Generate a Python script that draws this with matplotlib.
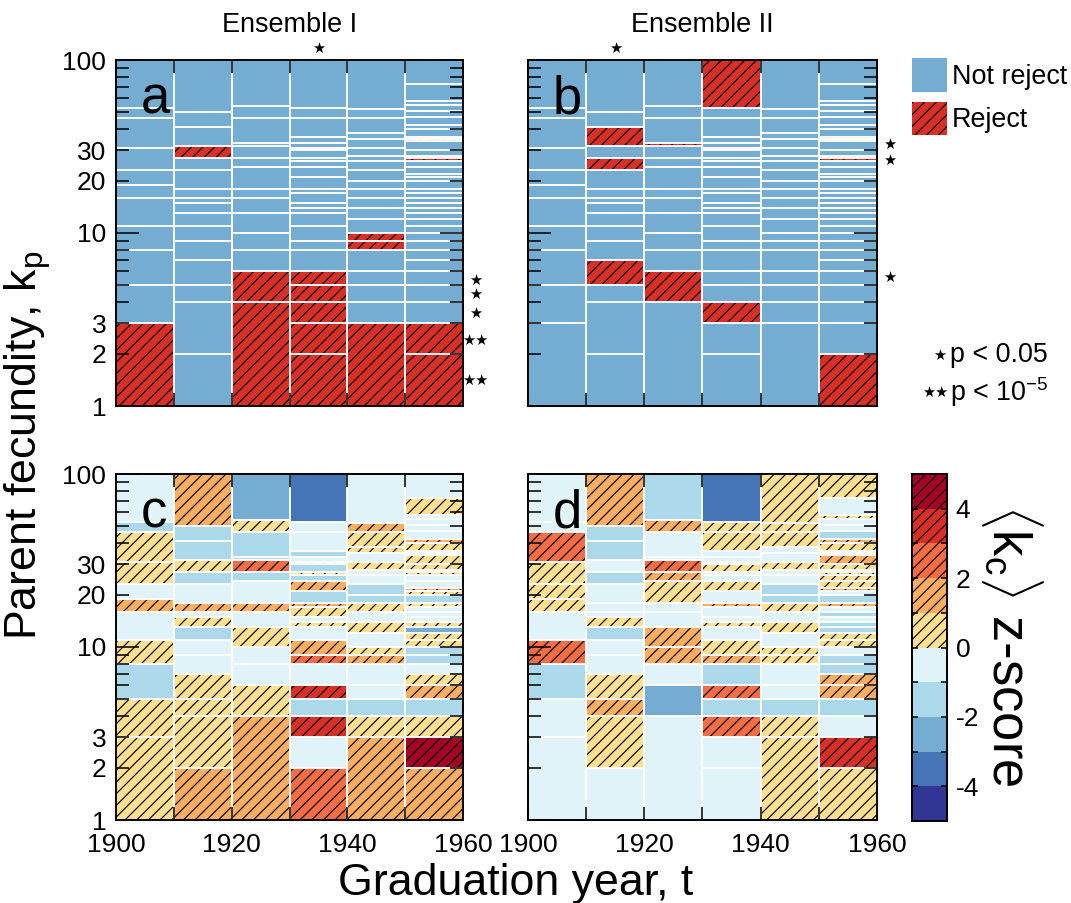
import math
import matplotlib
matplotlib.use('Agg')
import matplotlib.pyplot as plt
import matplotlib.transforms as mtransforms
from matplotlib.patches import Patch
from matplotlib.ticker import FixedLocator, FuncFormatter

plt.rcParams['font.family'] = ['Liberation Sans', 'DejaVu Sans']
plt.rcParams['mathtext.fontset'] = 'custom'
plt.rcParams['mathtext.rm'] = 'Liberation Sans'
plt.rcParams['mathtext.it'] = 'Liberation Sans:italic'
plt.rcParams['hatch.linewidth'] = 0.6
plt.rcParams['axes.linewidth'] = 1.0

DPI = 140
W, H = 1071, 903
HATCH = '////'

decades = [1900, 1910, 1920, 1930, 1940, 1950]

# bin edges of parent fecundity k_p, one list per graduation decade
edges_1900 = [1, 3, 5, 8, 11, 16, 19, 23, 31, 46, 53, 100]
edges_1910 = [1, 2, 4, 5, 7, 9, 11, 13, 15, 16, 18, 23, 27, 32, 41, 50, 100]
edges_1920 = [1, 4, 6, 8, 10, 13, 16, 18, 24, 27, 32, 33, 46, 54, 100]
edges_1930 = [1, 2, 3, 4, 5, 6, 8, 9, 11, 13, 14, 15, 17, 18, 21, 24, 26, 27,
              30, 31, 33, 36, 46, 53, 100]
edges_1940 = [1, 3, 4, 5, 6, 8, 9, 10, 12, 14, 16, 18, 20, 23, 26, 28, 31, 35,
              38, 46, 52, 100]
edges_1950 = [1, 2, 3, 4, 5, 6, 7, 8, 9, 10, 11, 12, 13, 14, 15, 16, 17, 18, 20,
              21, 22, 24, 26, 27, 28, 30, 34, 35, 36, 40, 42, 47, 51, 55, 58, 73, 100]
edges = [edges_1900, edges_1910, edges_1920, edges_1930, edges_1940, edges_1950]

# lower edge of the bins where the null model is rejected
reject_I = [[1], [27], [1, 4], [1, 2, 3, 4, 5], [1, 8, 9], [1, 2, 26, 34]]
reject_II = [[], [5, 23, 32], [4, 32], [3, 53], [], [1, 26]]

# <k_c> z-scores per bin (bottom to top)
z_I_1900 = [0.5, 0.5, -1.5, 0.5, -0.5, 1.5, -0.5, 0.5, 0.5, -1.5, -0.5]
z_I_1910 = [1.5, 0.5, 0.5, 0.5, -0.5, -0.5, -1.5, 0.5, -0.5, 1.5, -0.5, -1.5,
            0.5, -1.5, -1.5, 1.5]
z_I_1920 = [1.5, 0.5, -0.5, -0.5, 0.5, -0.5, 1.5, -0.5, -1.5, 2.5, -1.5, -1.5,
            0.5, -2.5]
z_I_1930 = [2.5, -0.5, 3.5, -1.5, 3.5, -0.5, 2.5, 1.5, -0.5, 0.5, -0.5, 0.5,
            1.5, -1.5, 1.5, -1.5, 0.5, -1.5, 0.5, -0.5, -1.5, -0.5, -0.5, -3.5]
z_I_1940 = [1.5, 0.5, -1.5, -0.5, -0.5, 1.5, 0.5, -0.5, 0.5, -0.5, 0.5, -1.5,
            -1.5, -0.5, -0.5, 0.5, -0.5, 0.5, 0.5, 1.5, -0.5]
z_I_1950 = [1.5, 4.5, 0.5, -1.5, 1.5, 0.5, -0.5, -1.5, -1.5, 0.5, 0.5, -2.5,
            0.5, -0.5, -0.5, -0.5, 0.5, -1.5, 0.5, 1.5, -0.5, -0.5, 0.5, -0.5,
            0.5, 0.5, -0.5, -1.5, 0.5, 1.5, -0.5, -0.5, -0.5, -0.5, 0.5, -0.5]

z_II_1900 = [-0.5, -0.5, -1.5, 2.5, -0.5, 0.5, 0.5, 0.5, 2.5, -0.5, -0.5]
z_II_1910 = [-0.5, 0.5, 1.5, 0.5, -0.5, -0.5, -1.5, 0.5, -0.5, -0.5, -0.5, -1.5,
             -0.5, -1.5, -1.5, 1.5]
z_II_1920 = [-0.5, -2.5, -0.5, 1.5, 1.5, -0.5, -0.5, 0.5, 1.5, 2.5, -0.5, -0.5,
             1.5, -1.5]
z_II_1930 = [-0.5, -0.5, 2.5, -1.5, 2.5, -1.5, 1.5, 0.5, -0.5, 0.5, -0.5, -0.5,
             1.5, -0.5, 0.5, -0.5, -0.5, 0.5, -0.5, -0.5, -0.5, 0.5, 0.5, -3.5]
z_II_1940 = [0.5, 0.5, -1.5, -0.5, -0.5, 0.5, 0.5, -0.5, 0.5, -0.5, 0.5, -1.5,
             -1.5, -0.5, -0.5, 0.5, -0.5, -0.5, 0.5, 0.5, 0.5]
z_II_1950 = [0.5, 3.5, -0.5, -1.5, 1.5, 1.5, -1.5, -1.5, -0.5, 0.5, 0.5, -1.5,
             -1.5, -0.5, -1.5, -0.5, 1.5, -1.5, -0.5, 1.5, 0.5, 0.5, 0.5, -0.5,
             0.5, 1.5, -0.5, -1.5, 0.5, 1.5, -1.5, -0.5, -0.5, 0.5, -0.5, 0.5]

z_I = [z_I_1900, z_I_1910, z_I_1920, z_I_1930, z_I_1940, z_I_1950]
z_II = [z_II_1900, z_II_1910, z_II_1920, z_II_1930, z_II_1940, z_II_1950]

# significance stars: (k_p position) on the right, and decade marked on top
stars_right_I = [(5.3, '★'), (4.4, '★'), (3.45, '★'), (2.4, '★★'), (1.4, '★★')]
stars_right_II = [(32.3, '★'), (26.4, '★'), (5.5, '★')]
star_top_I = 1935
star_top_II = 1915

z_colors = ['#313695', '#4575b4', '#74add1', '#abd9e9', '#e0f3f8',
            '#fee090', '#fdae61', '#f46d43', '#d73027', '#a50026']
blue = '#74add1'
red = '#d73027'

TICK_FS = 13.6
LABEL_FS = 23
STAR_FS = 7.5


def box(x0, y0, x1, y1):
    return [x0 / W, 1 - y1 / H, (x1 - x0) / W, (y1 - y0) / H]


def draw_cells(ax, cols, color_of, hatched):
    for x0, e, vals in zip(decades, edges, cols):
        lo = e[:-1]
        hts = [h - l for l, h in zip(lo, e[1:])]
        bars = ax.bar([x0] * len(lo), hts, bottom=lo, width=10, align='edge',
                      color=[color_of(v) for v in vals], edgecolor='black',
                      linewidth=0, zorder=1)
        for b, v in zip(bars, vals):
            if hatched(v):
                b.set_hatch(HATCH)
        ax.bar([x0] * len(lo), hts, bottom=lo, width=10, align='edge',
               fill=False, edgecolor='white', linewidth=0.8, zorder=1.2)


def style_axes(ax, xlab, ylab):
    ax.set_xlim(1900, 1960)
    ax.set_yscale('log')
    ax.set_ylim(1, 100)
    ax.yaxis.set_major_locator(FixedLocator([1, 10, 100]))
    ax.yaxis.set_minor_locator(FixedLocator([2, 3, 4, 5, 6, 7, 8, 9,
                                             20, 30, 40, 50, 60, 70, 80, 90]))
    ax.yaxis.set_major_formatter(FuncFormatter(lambda v, p: '%d' % round(v)))
    ax.yaxis.set_minor_formatter(FuncFormatter(
        lambda v, p: '%d' % round(v) if round(v) in (2, 3, 20, 30) else ''))
    ax.set_xticks([1900, 1920, 1940, 1960])
    ax.set_xticks([1910, 1930, 1950], minor=True)
    ax.tick_params(axis='both', which='both', direction='in', top=True,
                   right=True, width=0.8, labelsize=TICK_FS, pad=5)
    ax.tick_params(axis='x', which='both', pad=6.5)
    ax.tick_params(axis='y', which='major', length=11.8)
    ax.tick_params(axis='y', which='minor', length=6.7)
    ax.tick_params(axis='x', which='both', length=6.5)
    if not xlab:
        ax.tick_params(axis='x', which='both', labelbottom=False)
    if not ylab:
        ax.tick_params(axis='y', which='both', labelleft=False)


fig = plt.figure(figsize=(W / DPI, H / DPI), dpi=DPI)
ax_a = fig.add_axes(box(116, 60, 463, 406))
ax_b = fig.add_axes(box(528, 60, 877, 406))
ax_c = fig.add_axes(box(116, 474, 463, 820))
ax_d = fig.add_axes(box(528, 474, 877, 820))
ax_cb = fig.add_axes(box(912, 474, 947, 821))

for ax, rej in [(ax_a, reject_I), (ax_b, reject_II)]:
    cols = [[1 if l in r else 0 for l in e[:-1]] for e, r in zip(edges, rej)]
    draw_cells(ax, cols, lambda v: red if v else blue, lambda v: v == 1)

for ax, z in [(ax_c, z_I), (ax_d, z_II)]:
    draw_cells(ax, z, lambda v: z_colors[int(math.floor(v)) + 5], lambda v: v > 0)

style_axes(ax_a, False, True)
style_axes(ax_b, False, False)
style_axes(ax_c, True, True)
style_axes(ax_d, True, False)

for ax, letter in [(ax_a, 'a'), (ax_b, 'b'), (ax_c, 'c'), (ax_d, 'd')]:
    ax.text(0.07, 0.845, letter, transform=ax.transAxes, fontsize=27,
            va='baseline', ha='left', zorder=5)

# stars
for ax, rows, top in [(ax_a, stars_right_I, star_top_I),
                      (ax_b, stars_right_II, star_top_II)]:
    tr = mtransforms.blended_transform_factory(ax.transAxes, ax.transData)
    for k, s in rows:
        ax.text(1.035, k, s, transform=tr, fontsize=STAR_FS, ha='center',
                va='center', family=['DejaVu Sans'], clip_on=False)
    tr_top = mtransforms.blended_transform_factory(ax.transData, ax.transAxes)
    ax.text(top, 1.012, '★', transform=tr_top, fontsize=STAR_FS, ha='center',
            va='bottom', family=['DejaVu Sans'], clip_on=False)

ax_a.set_title('Ensemble I', fontsize=13.9, pad=14.5)
ax_b.set_title('Ensemble II', fontsize=13.9, pad=14.5)

# legend for the reject panels
handles = [Patch(facecolor=blue, edgecolor='none', label='Not reject'),
           Patch(facecolor=red, edgecolor='black', hatch=HATCH, linewidth=0,
                 label='Reject')]
fig.legend(handles=handles, loc='upper left', bbox_to_anchor=(912 / W, 1 - 58 / H),
           frameon=False, borderpad=0, borderaxespad=0, handlelength=1.3,
           handleheight=1.56, handletextpad=0.2, labelspacing=0.37,
           fontsize=13.8)

fig.text(940 / W, 1 - 355 / H, '★', fontsize=STAR_FS, ha='center', va='center',
         family=['DejaVu Sans'])
fig.text(950 / W, 1 - 355 / H, 'p < 0.05', fontsize=13.8, ha='left', va='center')
fig.text(935 / W, 1 - 392 / H, '★★', fontsize=STAR_FS, ha='center', va='center',
         family=['DejaVu Sans'])
fig.text(950 / W, 1 - 392 / H, 'p < 10$^{-5}$', fontsize=13.8, ha='left',
         va='center')

# colour scale for z-scores
for i, c in enumerate(z_colors):
    lo = i - 5
    b = ax_cb.bar(0, 1, bottom=lo, width=1, align='edge', color=c,
                  edgecolor='black', linewidth=0)
    if lo >= 0:
        b[0].set_hatch(HATCH)
ax_cb.set_xlim(0, 1)
ax_cb.set_ylim(-5, 5)
ax_cb.set_xticks([])
ax_cb.yaxis.tick_right()
ax_cb.set_yticks(range(-4, 5))
ax_cb.set_yticklabels(['-4', '', '-2', '', '0', '', '2', '', '4'])
ax_cb.tick_params(axis='y', direction='in', left=True, right=True, length=3,
                  width=0.8, labelsize=TICK_FS, pad=4.5)

fig.text(1012 / W, 1 - 645 / H, r'$\langle$k$_\mathrm{c}\rangle$ z-score',
         fontsize=27, rotation=270, ha='center', va='center')
fig.text(516 / W, 1 - 883 / H, 'Graduation year, t', fontsize=LABEL_FS,
         ha='center', va='center')
fig.text(28 / W, 1 - 445 / H, 'Parent fecundity, k$_\mathrm{p}$',
         fontsize=LABEL_FS, rotation=90, ha='center', va='center')

fig.savefig('out.png', dpi=DPI)
